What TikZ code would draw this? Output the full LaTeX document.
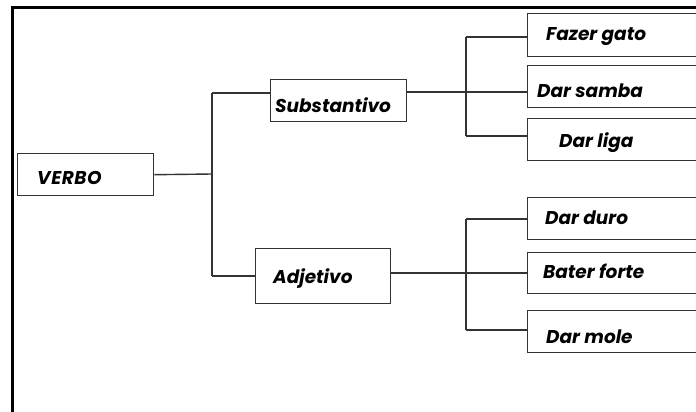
\documentclass[tikz,border=0pt]{standalone}
\usepackage{fontspec}
\setmainfont{Poppins}[BoldItalicFont={Poppins Bold Italic}]
\begin{document}
\begin{tikzpicture}[x=1pt,y=1pt,
  box/.style={draw=black!80,line width=1.4pt,fill=white,anchor=north west,inner sep=0pt},
  lbl/.style={anchor=base west,inner sep=0pt,font=\fontsize{18.5}{20}\selectfont\bfseries\itshape},
  conn/.style={draw=black!80,line width=1.4pt}]
\useasboundingbox (0,0) rectangle (696,-412);
\clip (0,0) rectangle (696,-412);
\fill[white] (0,0) rectangle (696,-412);
% frame
\draw[line width=3pt] (12,-414) -- (12,-8) -- (700,-8);
% boxes
\node[box,minimum width=136pt,minimum height=42pt] (verbo) at (17,-153) {};
\node[box,minimum width=136pt,minimum height=42pt] (subst) at (270,-79) {};
\node[box,minimum width=135pt,minimum height=55pt] (adj) at (255,-248) {};
\node[box,minimum width=180pt,minimum height=43pt] (fg) at (527,-13) {};
\node[box,minimum width=180pt,minimum height=42pt] (ds) at (527,-65) {};
\node[box,minimum width=180pt,minimum height=42pt] (dl) at (527,-118) {};
\node[box,minimum width=180pt,minimum height=42pt] (dd) at (527,-197) {};
\node[box,minimum width=180pt,minimum height=41pt] (bf) at (527,-252) {};
\node[box,minimum width=180pt,minimum height=42pt] (dm) at (527,-310) {};
% labels
\node[lbl] (tverbo) at (37,-184) {\addfontfeature{LetterSpace=3}VERBO};
\node[lbl] (tsubst) at (275,-112) {Substantivo};
\node[lbl] (tadj) at (273,-283) {Adjetivo};
\node[lbl] (tfg) at (546,-41) {Fazer gato};
\node[lbl] (tds) at (537,-97) {Dar samba};
\node[lbl] (tdl) at (559,-147) {Dar liga};
\node[lbl] (tdd) at (545,-224) {Dar duro};
\node[lbl] (tbf) at (543,-278) {Bater forte};
\node[lbl] (tdm) at (546,-343) {Dar mole};
% junction coordinates
\coordinate (j0) at (212,-174);
\coordinate (j0t) at (212,-93);
\coordinate (j0b) at (212,-276);
\coordinate (j1) at (466,-92);
\coordinate (j1t) at (466,-37);
\coordinate (j1b) at (466,-136);
\coordinate (j2) at (466,-273);
\coordinate (j2t) at (466,-219);
\coordinate (j2b) at (466,-330);
% connectors
\draw[conn] (verbo.east) -- (j0);
\draw[conn] (j0t) -- (j0b);
\draw[conn] (j0t) -- (j0t -| subst.west);
\draw[conn] (j0b) -- (j0b -| adj.west);
\draw[conn] (j1 -| subst.east) -- (j1 -| ds.west);
\draw[conn] (j1t) -- (j1b);
\draw[conn] (j1t) -- (j1t -| fg.west);
\draw[conn] (j1b) -- (j1b -| dl.west);
\draw[conn] (j2 -| adj.east) -- (j2 -| bf.west);
\draw[conn] (j2t) -- (j2b);
\draw[conn] (j2t) -- (j2t -| dd.west);
\draw[conn] (j2b) -- (j2b -| dm.west);
\end{tikzpicture}
\end{document}
